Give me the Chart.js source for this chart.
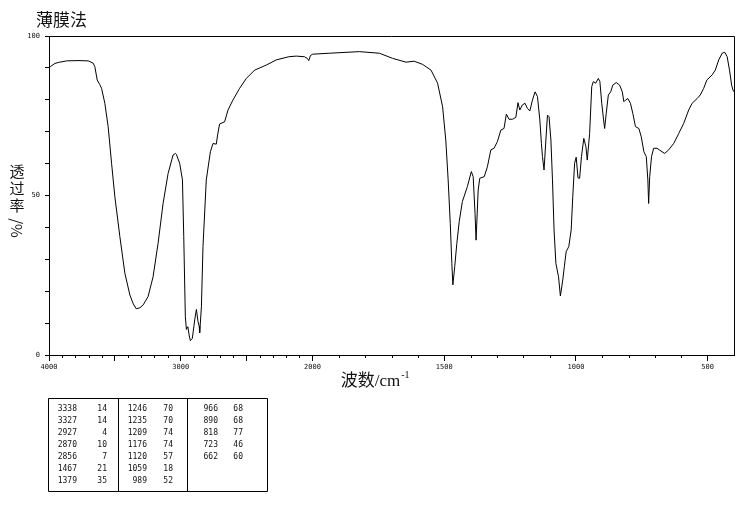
<!DOCTYPE html>
<html>
<head>
<meta charset="utf-8">
<script src="https://cdn.jsdelivr.net/npm/chart.js@4.4.1/dist/chart.umd.min.js"></script>
<style>
  html, body { margin: 0; padding: 0; background: #fff; }
  canvas { display: block; }
</style>
</head>
<body>
<canvas id="ir-chart" width="737" height="510"></canvas>
<script>
// spectrum (cm-1 / %T)
const wavenumbers = [
  4000, 3990, 3955, 3930, 3866, 3780, 3702, 3665, 3652, 3634, 3615, 3601, 3576, 3551, 3525, 3500,
  3462, 3424, 3386, 3360, 3338, 3310, 3285, 3248, 3210, 3172, 3134, 3096, 3058, 3040, 3033, 3008,
  2987, 2977, 2965, 2957, 2950, 2945, 2935, 2927, 2912, 2900, 2894, 2881, 2869, 2860, 2856, 2843,
  2831, 2806, 2775, 2755, 2730, 2720, 2705, 2667, 2641, 2604, 2553, 2502, 2439, 2350, 2275, 2180,
  2123, 2061, 2040, 2028, 2015, 1999, 1936, 1822, 1746, 1696, 1645, 1614, 1582, 1550, 1525, 1506,
  1494, 1485, 1477, 1471, 1467, 1460, 1452, 1443, 1431, 1412, 1397, 1390, 1383, 1379, 1371, 1365,
  1348, 1336, 1323, 1311, 1298, 1285, 1273, 1264, 1254, 1241, 1228, 1220, 1213, 1203, 1193, 1184,
  1175, 1165, 1155, 1146, 1137, 1131, 1127, 1121, 1114, 1108, 1102, 1095, 1089, 1083, 1076, 1066,
  1059, 1050, 1044, 1037, 1027, 1018, 1012, 1005, 999, 992, 986, 979, 970, 962, 957, 948,
  940, 934, 925, 915, 909, 902, 895, 891, 885, 877, 868, 860, 847, 834, 824, 818,
  812, 803, 793, 784, 774, 761, 752, 742, 733, 727, 724, 720, 713, 705, 692, 673,
  663, 648, 629, 610, 591, 572, 559, 540, 528, 515, 503, 483, 471, 458, 445, 435,
  426, 417, 409, 404, 400
];
const transmittance = [
  89.9, 90.4, 91.4, 91.7, 92.2, 92.3, 92.2, 91.5, 90.4, 86.2, 84.8, 83.6, 78.9, 71.6, 60.1, 49.6,
  37.1, 25.6, 18.8, 16.0, 14.5, 14.8, 15.7, 18.3, 24.5, 35.0, 47.5, 56.9, 62.7, 63.2, 62.9, 60.1,
  54.9, 37.1, 12.0, 8.0, 8.8, 8.6, 6.0, 4.5, 5.2, 9.0, 11.0, 14.3, 10.5, 9.0, 7.0, 15.1,
  34.0, 54.9, 63.7, 66.3, 66.1, 69.0, 72.4, 73.1, 76.8, 79.9, 83.6, 86.7, 89.3, 90.9, 92.5, 93.5,
  93.7, 93.5, 93.0, 92.3, 93.9, 94.3, 94.6, 95.1, 94.6, 93.0, 91.8, 92.1, 91.1, 89.3, 85.2, 77.8,
  67.4, 54.9, 41.3, 28.7, 22.0, 27.7, 35.0, 41.8, 48.1, 52.8, 57.5, 55.9, 44.4, 36.0, 51.7, 55.4,
  55.9, 59.0, 64.3, 64.8, 66.9, 70.5, 71.0, 75.5, 73.9, 73.9, 74.5, 79.1, 76.8, 78.4, 78.9, 77.3,
  76.5, 79.9, 82.5, 81.0, 73.7, 66.3, 62.2, 58.0, 67.4, 75.2, 74.7, 67.4, 54.9, 39.2, 28.7, 24.5,
  18.5, 23.5, 27.7, 32.4, 34.0, 39.2, 49.6, 60.1, 62.0, 55.5, 55.4, 62.2, 67.9, 65.3, 61.1, 69.4,
  84.1, 85.7, 85.2, 86.7, 85.7, 78.9, 73.7, 71.0, 75.7, 81.5, 82.5, 84.6, 85.4, 84.6, 82.5, 79.4,
  79.9, 80.4, 78.9, 75.7, 71.6, 71.0, 68.4, 63.7, 62.2, 54.9, 47.5, 55.9, 62.2, 64.8, 64.8, 63.7,
  63.2, 64.3, 66.3, 69.4, 72.6, 76.8, 78.9, 80.4, 81.5, 83.6, 86.2, 87.8, 89.3, 92.5, 94.6, 94.9,
  93.5, 89.3, 84.6, 83.1, 82.5
];

// axis ticks
const xMajorTicks = [4000, 3500, 3000, 2500, 2000, 1500, 1000, 500];
const xLabelTicks = [4000, 3000, 2000, 1500, 1000, 500];
const yLabelTicks = [0, 50, 100];

// peak table
const peakWn = [3338, 3327, 2927, 2870, 2856, 1467, 1379, 1246, 1235, 1209, 1176, 1120, 1059, 989, 966, 890, 818, 723, 662];
const peakT = [14, 14, 4, 10, 7, 21, 35, 70, 70, 74, 74, 57, 18, 52, 68, 68, 77, 46, 60];

const xMinorTicks = [];
for (let v = 3900; v >= 500; v -= 100) {
  if (!xMajorTicks.includes(v)) xMinorTicks.push(v);
}

// the x axis is compressed 2:1 above 2000 cm-1
function irPos(w) {
  return w >= 2000 ? 4000 - w : 2000 + (2000 - w) * 2;
}

class IrScale extends Chart.LinearScale {
  buildTicks() {
    return xMajorTicks.map((v) => ({ value: v }));
  }
  getPixelForValue(value) {
    return this.getPixelForDecimal(irPos(value) / irPos(this.min));
  }
  getValueForPixel(pixel) {
    const p = this.getDecimalForPixel(pixel) * irPos(this.min);
    return p <= 2000 ? 4000 - p : 2000 - (p - 2000) / 2;
  }
}
IrScale.id = 'ir';
IrScale.defaults = Chart.LinearScale.defaults;
Chart.register(IrScale);

const decor = {
  id: 'irDecor',
  afterDraw(chart) {
    const { ctx, chartArea: a } = chart;
    const x = chart.scales.x;
    ctx.save();
    ctx.strokeStyle = '#000';
    ctx.lineWidth = 1;

    // top and right frame
    ctx.beginPath();
    ctx.moveTo(a.left, a.top + 0.5);
    ctx.lineTo(a.right + 0.5, a.top + 0.5);
    ctx.lineTo(a.right + 0.5, a.bottom + 1);
    ctx.stroke();

    // minor ticks
    ctx.beginPath();
    xMinorTicks.forEach((v) => {
      const px = Math.round(x.getPixelForValue(v)) + 0.5;
      ctx.moveTo(px, a.bottom);
      ctx.lineTo(px, a.bottom + 3);
    });
    ctx.stroke();

    ctx.fillStyle = '#111';
    ctx.textBaseline = 'middle';

    // title
    ctx.font = '17px "Noto Sans CJK SC"';
    ctx.textAlign = 'left';
    ctx.fillText('薄膜法', 36, 20);

    // y title, upright stacked characters
    ctx.font = '15px "Noto Sans CJK SC"';
    ctx.textAlign = 'center';
    ['透', '过', '率'].forEach((ch, i) => ctx.fillText(ch, 17, 171 + i * 17));
    ctx.save();
    ctx.translate(17, 228);
    ctx.rotate(Math.PI / 2);
    ctx.fillText('/%', 0, 0);
    ctx.restore();

    // x title
    ctx.font = '17px "Liberation Serif", "Noto Sans CJK SC"';
    ctx.textAlign = 'left';
    const t = '波数/cm';
    const tw = ctx.measureText(t).width;
    const tx = 375 - (tw + 9) / 2;
    ctx.fillText(t, tx, 382);
    ctx.font = '10px "Liberation Serif"';
    ctx.fillText('-1', tx + tw + 1, 375);

    // peak table
    const left = 48, top = 398, bottom = 491, right = 267;
    const dividers = [118, 187];
    ctx.beginPath();
    ctx.rect(left + 0.5, top + 0.5, right - left, bottom - top);
    dividers.forEach((d) => {
      ctx.moveTo(d + 0.5, top);
      ctx.lineTo(d + 0.5, bottom);
    });
    ctx.stroke();

    ctx.font = '8px "DejaVu Sans Mono"';
    ctx.textAlign = 'right';
    const wnRight = [77, 147, 218];
    const tRight = [107, 173, 243];
    peakWn.forEach((w, i) => {
      const col = Math.floor(i / 7);
      const row = i % 7;
      const y = 409 + row * 12;
      ctx.fillText(String(w), wnRight[col], y);
      ctx.fillText(String(peakT[i]), tRight[col], y);
    });
    ctx.restore();
  }
};

const points = wavenumbers.map((w, i) => ({ x: w, y: transmittance[i] }));

new Chart(document.getElementById('ir-chart'), {
  type: 'line',
  data: {
    datasets: [{
      data: points,
      borderColor: '#000',
      borderWidth: 1,
      pointRadius: 0,
      tension: 0,
      fill: false
    }]
  },
  options: {
    responsive: false,
    animation: false,
    layout: { padding: { left: 0, right: 3, top: 36, bottom: 0 } },
    plugins: {
      legend: { display: false },
      title: { display: false },
      tooltip: { enabled: false }
    },
    scales: {
      x: {
        type: 'ir',
        min: 400,
        max: 4000,
        afterFit: (scale) => { scale.height = 155; },
        border: { display: true, color: '#000', width: 1 },
        grid: { drawOnChartArea: false, drawTicks: true, tickLength: 6, color: '#000' },
        ticks: {
          autoSkip: false,
          maxRotation: 0,
          padding: 2,
          color: '#111',
          font: { family: 'DejaVu Sans Mono', size: 7 },
          callback: (v) => (xLabelTicks.includes(v) ? String(v) : '')
        }
      },
      y: {
        min: 0,
        max: 100,
        afterFit: (scale) => { scale.width = 49; },
        border: { display: true, color: '#000', width: 1 },
        grid: { drawOnChartArea: false, drawTicks: true, tickLength: 4, color: '#000' },
        ticks: {
          stepSize: 10,
          padding: 5,
          color: '#111',
          font: { family: 'DejaVu Sans Mono', size: 7 },
          callback: (v) => (yLabelTicks.includes(v) ? String(v) : '')
        }
      }
    }
  },
  plugins: [decor]
});
</script>
</body>
</html>
